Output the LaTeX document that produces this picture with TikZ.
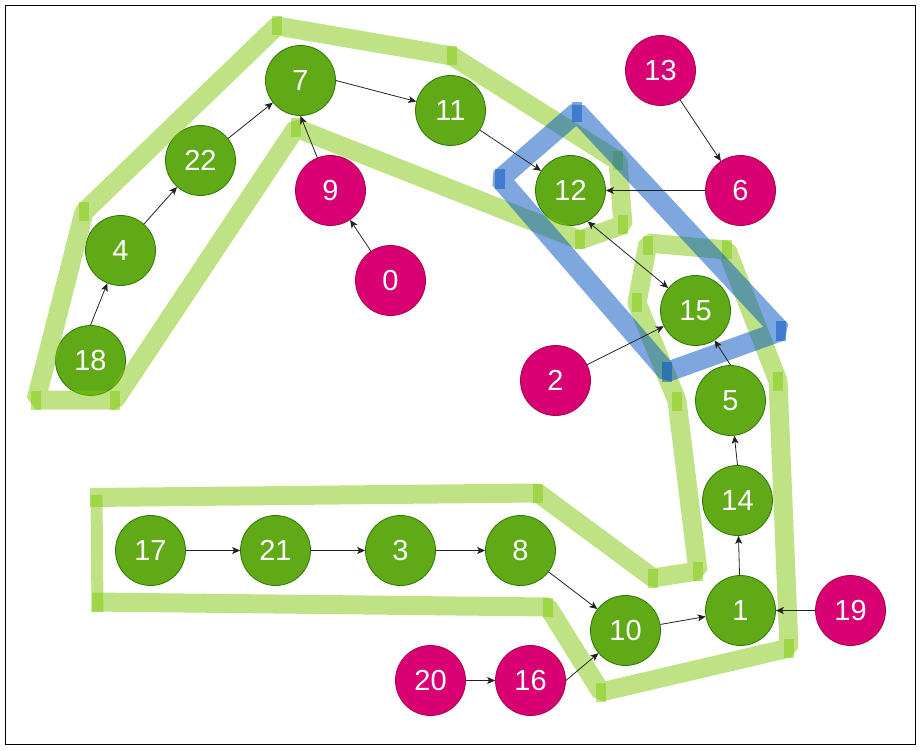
\documentclass[tikz,border=0pt]{standalone}
\usepackage{fontspec}
\setmainfont{Liberation Sans}
\usetikzlibrary{arrows.meta}
\definecolor{gfill}{HTML}{60A917}
\definecolor{gline}{HTML}{2D7600}
\definecolor{mfill}{HTML}{D80073}
\definecolor{mline}{HTML}{A50040}
\definecolor{bandg}{RGB}{128,200,10}
\definecolor{bandb}{RGB}{0,80,192}
\definecolor{conncol}{HTML}{222222}
\begin{document}
\begin{tikzpicture}[x=1pt,y=-1pt,
  gnode/.style={circle,draw=gline,fill=gfill,line width=0.8pt,minimum size=70pt,inner sep=0pt,text=white,font=\fontsize{29}{29}\selectfont},
  mnode/.style={gnode,draw=mline,fill=mfill},
  conn/.style={draw=conncol,line width=0.8pt,-{Stealth[length=8pt,width=7pt,inset=2pt]}},
  gband/.style={draw=bandg,draw opacity=0.5,line width=19pt,line join=bevel},
  bband/.style={draw=bandb,draw opacity=0.5,line width=20pt,line join=bevel},
  gpatch/.style={fill=bandg,fill opacity=0.5},
  bpatch/.style={fill=bandb,fill opacity=0.5},
]
\useasboundingbox (0,0) rectangle (921,751);
\draw[line width=1pt] (5.5,5.5) rectangle (915.5,744.5);

% nodes
\node[gnode] (n7)  at (300.5,80.5) {7};
\node[gnode] (n11) at (450.5,110.5) {11};
\node[gnode] (n22) at (200.5,160.5) {22};
\node[mnode] (n9)  at (330.5,190.5) {9};
\node[gnode] (n4)  at (120.5,250.5) {4};
\node[mnode] (n0)  at (390.5,280.5) {0};
\node[gnode] (n18) at (90.5,360.5) {18};
\node[mnode] (n13) at (660.5,70.5) {13};
\node[gnode] (n12) at (570.5,190.5) {12};
\node[mnode] (n6)  at (740.5,190.5) {6};
\node[gnode] (n15) at (695.5,310.5) {15};
\node[mnode] (n2)  at (555.5,380.5) {2};
\node[gnode] (n5)  at (730.5,400.5) {5};
\node[gnode] (n14) at (737.5,500.5) {14};
\node[gnode] (n17) at (150.5,550.5) {17};
\node[gnode] (n21) at (275.5,550.5) {21};
\node[gnode] (n3)  at (400.5,550.5) {3};
\node[gnode] (n8)  at (520.5,550.5) {8};
\node[gnode] (n10) at (625.5,630.5) {10};
\node[gnode] (n1)  at (740.5,610.5) {1};
\node[mnode] (n19) at (850.5,610.5) {19};
\node[mnode] (n20) at (430.5,680.5) {20};
\node[mnode] (n16) at (530.5,680.5) {16};

% green bands
\draw[gband] (115,400) -- (296,128) -- (580,240) -- (623,225) -- (618,161) -- (452,56) -- (277,26) -- (84,212) -- (36,400) -- cycle;
\foreach \x/\y in {115/400,296/128,580/240,623/225,618/161,452/56,277/26,84/212,36/400}
  \fill[gpatch] (\x-5,\y-9.5) rectangle (\x+5,\y+9.5);
\draw[gband] (90,497.5) -- (538,493) -- (653,578) -- (698,571) -- (677,401) -- (637,303) -- (648,243) -- (727,250) -- (778,381) -- (789,648) -- (601,692) -- (548,607) -- (92,602);
\draw[gband,line width=12pt] (96.5,495) -- (97.5,612);
\foreach \x/\y in {538/493,653/578,698/571,677/401,637/303,648/246,727/250,778/381,789/648,601/692,548/607}
  \fill[gpatch] (\x-5,\y-9.5) rectangle (\x+5,\y+9.5);
% blue band
\draw[bband] (577,112) -- (500,179) -- (667,372) -- (781,331) -- cycle;
\foreach \x/\y in {577/112,500/179,667/372,781/331}
  \fill[bpatch] (\x-5,\y-10) rectangle (\x+5,\y+10);

% connectors
\draw[conn] (n18.north) -- (n4);
\draw[conn] (n4) -- (n22);
\draw[conn] (n22) -- (n7);
\draw[conn] (n9) -- (n7.south);
\draw[conn] (n0) -- (n9);
\draw[conn] (n7.east) -- (n11);
\draw[conn] (n11) -- (n12);
\draw[conn] (n6) -- (n12);
\draw[conn] (n13) -- (n6);
\draw[conn,{Stealth[length=8pt,width=7pt,inset=2pt]}-{Stealth[length=8pt,width=7pt,inset=2pt]}] (n12.-61) -- (n15);
\draw[conn] (n2) -- (n15);
\draw[conn] (n5.north) -- (n15);
\draw[conn] (n14.north) -- (n5);
\draw[conn] (n1) -- (n14);
\draw[conn] (n10) -- (n1);
\draw[conn] (n19) -- (n1);
\draw[conn] (n8) -- (n10);
\draw[conn] (n16.east) -- (n10);
\draw[conn] (n20) -- (n16);
\draw[conn] (n17) -- (n21);
\draw[conn] (n21) -- (n3);
\draw[conn] (n3) -- (n8);
\end{tikzpicture}
\end{document}
